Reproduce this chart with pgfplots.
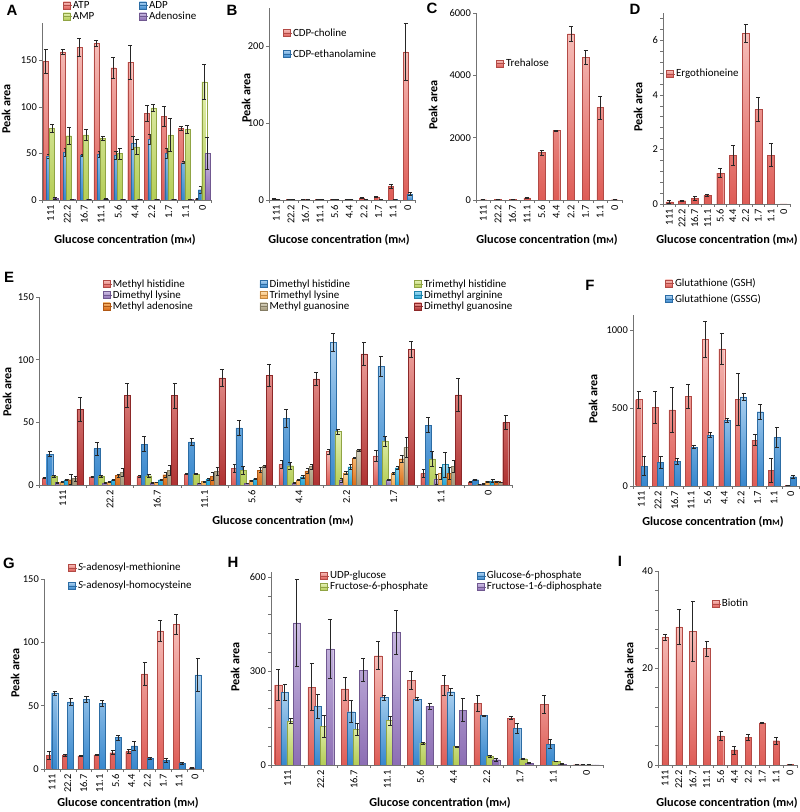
\documentclass[border=0pt]{standalone}
\usepackage{fontspec}
\setmainfont{Carlito}
\newfontfamily\letfont{Liberation Sans}
\usepackage{pgfplots}
\usepackage{pgfplotstable}
\pgfplotsset{compat=1.18}

\definecolor{cRed}{RGB}{222,92,86}
\definecolor{cRedL}{RGB}{246,190,185}
\definecolor{cBlue}{RGB}{55,135,205}
\definecolor{cBlueL}{RGB}{170,208,240}
\definecolor{cGreen}{RGB}{180,205,85}
\definecolor{cGreenL}{RGB}{228,240,180}
\definecolor{cPurple}{RGB}{140,110,180}
\definecolor{cPurpleL}{RGB}{205,190,228}
\definecolor{cOrL}{RGB}{245,170,80}
\definecolor{cOrLL}{RGB}{252,222,175}
\definecolor{cCyan}{RGB}{35,165,215}
\definecolor{cCyanL}{RGB}{160,218,242}
\definecolor{cOr}{RGB}{220,110,25}
\definecolor{cOrL2}{RGB}{245,185,115}
\definecolor{cTan}{RGB}{165,155,125}
\definecolor{cTanL}{RGB}{218,212,192}
\definecolor{cDRed}{RGB}{175,50,50}
\definecolor{cDRedL}{RGB}{238,160,155}

\newcommand\ticksize{\fontsize{10.5}{11}\selectfont}
\newcommand\legsize{\fontsize{11}{12}\selectfont}
\newcommand\labsize{\fontsize{12.3}{13}\selectfont\bfseries}
\newcommand\letsize{\letfont\fontsize{15}{16}\selectfont\bfseries}
\newcommand\mM{m{\fontsize{8.5}{8}\selectfont M}}

\pgfplotsset{
  panel/.style={
    scale only axis, anchor=south west,
    axis x line*=bottom, axis y line*=left,
    axis line style={draw=black!55, line width=0.6bp, -},
    xmin=-0.5, xmax=9.5, ymin=0,
    xtick={0,...,9},
    xticklabels={111,22.2,16.7,11.1,5.6,4.4,2.2,1.7,1.1,0},
    minor xtick={-0.5,0.5,...,9.5},
    tick align=outside,
    major tick length=3bp, minor tick length=3bp,
    tick style={draw=black!55, line width=0.5bp},
    major x tick style={draw=none},
    xticklabel style={rotate=90, anchor=east, font=\ticksize, inner sep=2bp},
    yticklabel style={font=\ticksize, inner sep=2bp},
    /pgf/number format/assume math mode=true,
    /pgf/number format/1000 sep={},
    scaled y ticks=false,
    legend style={draw=none, fill=none, font=\legsize, anchor=north west,
      inner sep=0pt, row sep=2bp, nodes={inner sep=1bp}},
    legend cell align=left,
    error bars/y dir=both, error bars/y explicit,
    error bars/error bar style={black!85, line width=0.6bp},
    error bars/error mark options={black!85, line width=0.6bp, mark size=2bp, rotate=90},
  },
  % must come after ybar, which sets its own legend picture
  lg/.style={
    legend image code/.code={\draw[##1, line width=0.3bp] (0bp,-3.5bp) rectangle (7bp,3.5bp);
      \path (0bp,0bp) -- (8.5bp,0bp);},
  },
  bR/.style={draw=cRed!80!black, top color=cRedL, bottom color=cRed, line width=0.3bp},
  bB/.style={draw=cBlue!80!black, top color=cBlueL, bottom color=cBlue, line width=0.3bp},
  bG/.style={draw=cGreen!80!black, top color=cGreenL, bottom color=cGreen, line width=0.3bp},
  bP/.style={draw=cPurple!80!black, top color=cPurpleL, bottom color=cPurple, line width=0.3bp},
  bOL/.style={draw=cOrL!80!black, top color=cOrLL, bottom color=cOrL, line width=0.3bp},
  bC/.style={draw=cCyan!80!black, top color=cCyanL, bottom color=cCyan, line width=0.3bp},
  bO/.style={draw=cOr!80!black, top color=cOrL2, bottom color=cOr, line width=0.3bp},
  bT/.style={draw=cTan!80!black, top color=cTanL, bottom color=cTan, line width=0.3bp},
  bDR/.style={draw=cDRed!80!black, top color=cDRedL, bottom color=cDRed, line width=0.3bp},
}

% A: adenine nucleotides
\pgfplotstableread{
x atp eatp adp eadp amp eamp ado eado
0 149 13 47 2 77 4 2 1
1 159 3 51 4 69 9 0.5 0.3
2 164 10 48 1 70 6 0.5 0.3
3 168 3 49 3 66 2 1 0.3
4 142 11 48 4 50 6 0.5 0.3
5 148 18 61 7 57 8 0.5 0.3
6 93 9 65 5 99 4 0.5 0.3
7 90 11 50 5 70 18 0.5 0.3
8 77 2 40 1 76 4 0.5 0.3
9 1.4 0.5 11 4 127 19 50 17
}\tA
% B: CDP
\pgfplotstableread{
x cho echo eth eeth
0 1.5 0.5 0.3 0.1
1 1 0.3 0.3 0.1
2 1 0.3 0.3 0.1
3 1 0.3 0.3 0.1
4 1 0.3 0.3 0.1
5 1 0.3 0.3 0.1
6 2.6 0.8 0.3 0.1
7 4 1 0.3 0.1
8 18 3 0.5 0.1
9 193 37 7.8 2
}\tB
% C: trehalose
\pgfplotstableread{
x v e
0 10 5
1 25 8
2 30 8
3 70 10
4 1520 80
5 2225 20
6 5337 230
7 4588 230
8 2973 370
9 10 3
}\tC
% D: ergothioneine
\pgfplotstableread{
x v e
0 0.08 0.04
1 0.12 0.03
2 0.2 0.08
3 0.32 0.04
4 1.13 0.17
5 1.79 0.36
6 6.25 0.32
7 3.46 0.44
8 1.79 0.42
9 0 0
}\tD
% E: methylated metabolites
\pgfplotstableread{
x mh emh dmh edmh tmh etmh dml edml tml etml dma edma ma ema mg emg dmg edmg
0 5.8 0.5 24.6 2 7 0.5 1.9 0.3 2.4 0.3 4 0.5 4.2 4 5.3 2 60.5 9.5
1 6.6 0.5 29 5 7 0.5 1.6 0.3 2.4 0.3 4.2 0.5 7.5 1 10 3 71.5 9.5
2 6.9 0.5 32.6 6 7.4 1 1.6 0.3 2.1 0.3 4.2 0.5 8.2 2 11.7 4 71.5 10
3 8.7 0.5 34.5 2.5 8.7 0.5 1.3 0.3 2.7 0.3 4.5 0.5 6.9 3 11.1 3 85.4 7
4 13.5 3 45.6 6 11.7 3 1.3 0.3 3.5 0.5 5 0.5 11.9 2 14.8 1 87.5 8.5
5 16.4 3 53.3 7 15.4 3 1.6 0.3 4 0.5 6.6 1 11.3 2 14.8 2 84.6 5
6 26.8 2 114 7 42.7 2 3.7 1.5 9.8 1 14.6 2 21.5 0.5 27.6 1 104.7 9.5
7 23.3 4 94.6 8 35.2 4 4 0.5 9.5 1 13.8 1 21 3 30 8 108.5 6.5
8 9.3 3 47.7 6 20.9 6 4.8 4 9.5 5 16.4 10 9.5 5 14.8 5 72 13
9 2.4 0.3 4.2 0.5 0.5 0.2 0.8 0.2 2.7 0.3 3.2 1 2.7 0.3 2.1 0.3 50 5.5
}\tE
% F: glutathione
\pgfplotstableread{
x gsh egsh gssg egssg
0 557 55 128 60
1 507 105 154 38
2 490 145 160 20
3 578 75 250 10
4 944 115 328 15
5 882 100 424 12
6 557 165 574 20
7 295 35 478 50
8 100 75 313 65
9 3 1 60 10
}\tF
% G: SAM / SAH
\pgfplotstableread{
x sam esam sah esah
0 10.8 3 60 1.5
1 10.8 0.5 53 3
2 10.3 0.5 55 2.5
3 11.1 0.3 51.7 2.5
4 12.9 1.5 24.8 2
5 13.7 1.5 18.2 3.5
6 75 9 8.4 0.5
7 109 8 6.9 1.5
8 114 8 4.5 0.5
9 1 0.3 74.3 13
}\tG
% H: sugar phosphates
\pgfplotstableread{
x udp eudp gsp egsp fsp efsp fdp efdp
0 256 50 232 25 141 8 454 140
1 248 75 188 38 124 35 371 93
2 243 38 170 35 114 20 303 37
3 349 45 216 8 142 15 424 70
4 270 28 210 5 70 3 187 10
5 255 32 234 10 59 2 175 37
6 197 25 158 2 27.6 2 17 5
7 149.5 5 117 15 20 2 6 2
8 194 30 67 15 11.7 1 3 1
9 1 0.5 0.5 0.3 0.5 0.3 0.3 0.2
}\tH
% I: biotin
\pgfplotstableread{
x v e
0 26.4 0.6
1 28.5 3.7
2 27.6 6.2
3 24 1.5
4 6 1
5 3.1 0.8
6 5.7 0.7
7 8.7 0.2
8 5 0.7
9 0.1 0.05
}\tI

\begin{document}
\begin{tikzpicture}
\useasboundingbox (0,0) rectangle (800bp,812bp);

% ---------- A ----------
\begin{axis}[panel, at={(42bp,612bp)}, width=169bp, height=177bp,
  ymax=190, ytick={0,50,100,150},
  ybar=-1.8bp, bar width=5bp, lg,
  legend columns=2,
  legend style={at={(0.124,1.13)}, row sep=0bp, /tikz/column 2/.style={column sep=44bp}}]
\addplot[bR] table[x=x, y=atp, y error=eatp] {\tA};
\addplot[bB] table[x=x, y=adp, y error=eadp] {\tA};
\addplot[bG] table[x=x, y=amp, y error=eamp] {\tA};
\addplot[bP] table[x=x, y=ado, y error=eado] {\tA};
\legend{ATP,ADP,AMP,Adenosine}
\end{axis}

% ---------- B ----------
\begin{axis}[panel, at={(269bp,612bp)}, width=146bp, height=192bp,
  ymax=250, ytick={0,100,200},
  ybar=-0.4bp, bar width=4.7bp, lg,
  legend style={at={(0.096,0.9)}, row sep=10bp}]
\addplot[bR] table[x=x, y=cho, y error=echo] {\tB};
\addplot[bB] table[x=x, y=eth, y error=eeth] {\tB};
\legend{CDP-choline,CDP-ethanolamine}
\end{axis}

% ---------- C ----------
\begin{axis}[panel, at={(476bp,612bp)}, width=146bp, height=187bp,
  ymax=6000, ytick={0,2000,4000,6000},
  ybar=0bp, bar width=6.7bp, lg,
  legend style={at={(0.137,0.76)}}]
\addplot[bR] table[x=x, y=v, y error=e] {\tC};
\legend{Trehalose}
\end{axis}

% ---------- D ----------
\begin{axis}[panel, at={(663bp,608bp)}, width=127bp, height=191bp,
  ymax=7, ytick={0,2,4,6}, minor ytick={0,0.4,...,7},
  ybar=0bp, bar width=7bp, lg,
  legend style={at={(0.024,0.712)}}]
\addplot[bR] table[x=x, y=v, y error=e] {\tD};
\legend{Ergothioneine}
\end{axis}

% ---------- E ----------
\begin{axis}[panel, at={(39bp,327bp)}, width=473bp, height=188bp,
  ymax=150, ytick={0,50,100,150},
  ybar=-1.67bp, bar width=6bp, lg,
  legend columns=3,
  legend style={at={(0.135,1.1)}, row sep=0bp,
    /tikz/column 2/.style={column sep=66bp},
    /tikz/column 4/.style={column sep=63bp}}]
\addplot[bR] table[x=x, y=mh, y error=emh] {\tE};
\addplot[bB] table[x=x, y=dmh, y error=edmh] {\tE};
\addplot[bG] table[x=x, y=tmh, y error=etmh] {\tE};
\addplot[bP] table[x=x, y=dml, y error=edml] {\tE};
\addplot[bOL] table[x=x, y=tml, y error=etml] {\tE};
\addplot[bC] table[x=x, y=dma, y error=edma] {\tE};
\addplot[bO] table[x=x, y=ma, y error=ema] {\tE};
\addplot[bT] table[x=x, y=mg, y error=emg] {\tE};
\addplot[bDR] table[x=x, y=dmg, y error=edmg] {\tE};
\legend{Methyl histidine,Dimethyl histidine,Trimethyl histidine,
  Dimethyl lysine,Trimethyl lysine,Dimethyl arginine,
  Methyl adenosine,Methyl guanosine,Dimethyl guanosine}
\end{axis}

% ---------- F ----------
\begin{axis}[panel, at={(633bp,326bp)}, width=166bp, height=171bp,
  ymax=1100, ytick={0,500,1000},
  ybar=-0.7bp, bar width=6bp, lg,
  legend style={at={(0.193,1.22)}, row sep=4bp}]
\addplot[bR] table[x=x, y=gsh, y error=egsh] {\tF};
\addplot[bB] table[x=x, y=gssg, y error=egssg] {\tF};
\legend{Glutathione (GSH),Glutathione (GSSG)}
\end{axis}

% ---------- G ----------
\begin{axis}[panel, at={(44bp,43bp)}, width=159bp, height=190bp,
  ymax=150, ytick={0,50,100,150},
  ybar=-0.5bp, bar width=6bp, lg,
  legend style={at={(0.151,1.09)}, row sep=7bp}]
\addplot[bR] table[x=x, y=sam, y error=esam] {\tG};
\addplot[bB] table[x=x, y=sah, y error=esah] {\tG};
\legend{\textit{S}-adenosyl-methionine,\textit{S}-adenosyl-homocysteine}
\end{axis}

% ---------- H ----------
\begin{axis}[panel, at={(271bp,47bp)}, width=332bp, height=193bp,
  ymax=616, ytick={0,300,600}, minor ytick={0,60,...,600},
  ybar=-1.4bp, bar width=7.5bp, lg,
  legend columns=2,
  legend style={at={(0.148,1.01)}, row sep=0bp, /tikz/column 2/.style={column sep=48bp}}]
\addplot[bR] table[x=x, y=udp, y error=eudp] {\tH};
\addplot[bB] table[x=x, y=gsp, y error=egsp] {\tH};
\addplot[bG] table[x=x, y=fsp, y error=efsp] {\tH};
\addplot[bP] table[x=x, y=fdp, y error=efdp] {\tH};
\legend{UDP-glucose,Glucose-6-phosphate,Fructose-6-phosphate,Fructose-1-6-diphosphate}
\end{axis}

% ---------- I ----------
\begin{axis}[panel, at={(658bp,47bp)}, width=139bp, height=194bp,
  ymax=40, ytick={0,20,40}, minor ytick={0,4,...,40},
  ybar=0bp, bar width=6.3bp, lg,
  legend style={at={(0.388,0.86)}}]
\addplot[bR] table[x=x, y=v, y error=e] {\tI};
\legend{Biotin}
\end{axis}

% panel letters
\node[font=\letsize] at (12bp,802bp) {A};
\node[font=\letsize] at (232bp,802bp) {B};
\node[font=\letsize] at (432bp,804bp) {C};
\node[font=\letsize] at (635bp,803bp) {D};
\node[font=\letsize] at (9bp,535bp) {E};
\node[font=\letsize] at (590bp,527bp) {F};
\node[font=\letsize] at (9bp,249bp) {G};
\node[font=\letsize] at (233bp,250bp) {H};
\node[font=\letsize] at (620bp,251bp) {I};

% y labels
\foreach \xx/\yy in {6/703, 246/714, 433/707, 638/705, 7/420, 593/413, 15/139, 235/145, 629/145}
  \node[font=\labsize, rotate=90] at (\xx bp,\yy bp) {Peak area};

% x labels
\foreach \xx/\yy in {125/572, 339/572, 547/572, 727/572, 283/291, 713/290, 128/9, 440/9, 727/9}
  \node[font=\labsize] at (\xx bp,\yy bp) {Glucose concentration (\mM)};
\end{tikzpicture}
\end{document}
